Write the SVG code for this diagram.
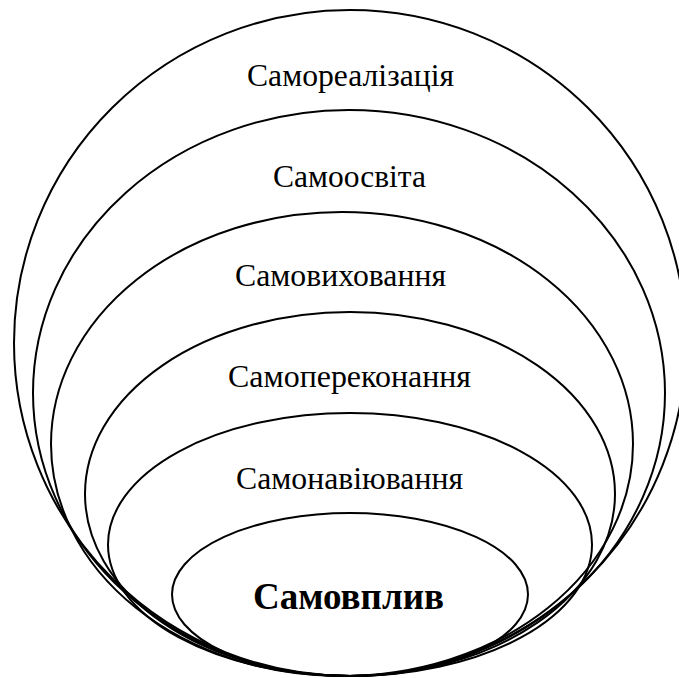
<svg xmlns="http://www.w3.org/2000/svg" width="679" height="678" viewBox="0 0 679 678">
<style>
.e{fill:none;stroke:#000;stroke-width:2}
.t{font-family:"Liberation Serif","Times New Roman",serif;font-size:30.5px;fill:#000;text-anchor:middle}
.b{font-family:"Liberation Serif","Times New Roman",serif;font-size:37px;font-weight:bold;fill:#000;text-anchor:middle}
</style>
<rect width="679" height="678" fill="#fff"/>
<g id="n1"><ellipse class="e" cx="350" cy="343" rx="336" ry="333"/><text class="t" x="350.5" y="86" textLength="207" lengthAdjust="spacingAndGlyphs">Самореалізація</text></g>
<g id="n2"><ellipse class="e" cx="349" cy="393" rx="316" ry="283"/><text class="t" x="349.5" y="187" textLength="153" lengthAdjust="spacingAndGlyphs">Самоосвіта</text></g>
<g id="n3"><ellipse class="e" cx="342" cy="444" rx="291" ry="232"/><text class="t" x="340.5" y="286" textLength="211" lengthAdjust="spacingAndGlyphs">Самовиховання</text></g>
<g id="n4"><ellipse class="e" cx="350" cy="494" rx="265" ry="182"/><text class="t" x="349.5" y="387" textLength="243" lengthAdjust="spacingAndGlyphs">Самопереконання</text></g>
<g id="n5"><ellipse class="e" cx="350" cy="544.5" rx="242" ry="131.5"/><text class="t" x="349.5" y="489" textLength="227" lengthAdjust="spacingAndGlyphs">Самонавіювання</text></g>
<g id="n6"><ellipse class="e" cx="350" cy="594.5" rx="178" ry="81.5"/><text class="b" x="348.5" y="609" textLength="191" lengthAdjust="spacingAndGlyphs">Самовплив</text></g>
<g id="connectors"/>
</svg>
